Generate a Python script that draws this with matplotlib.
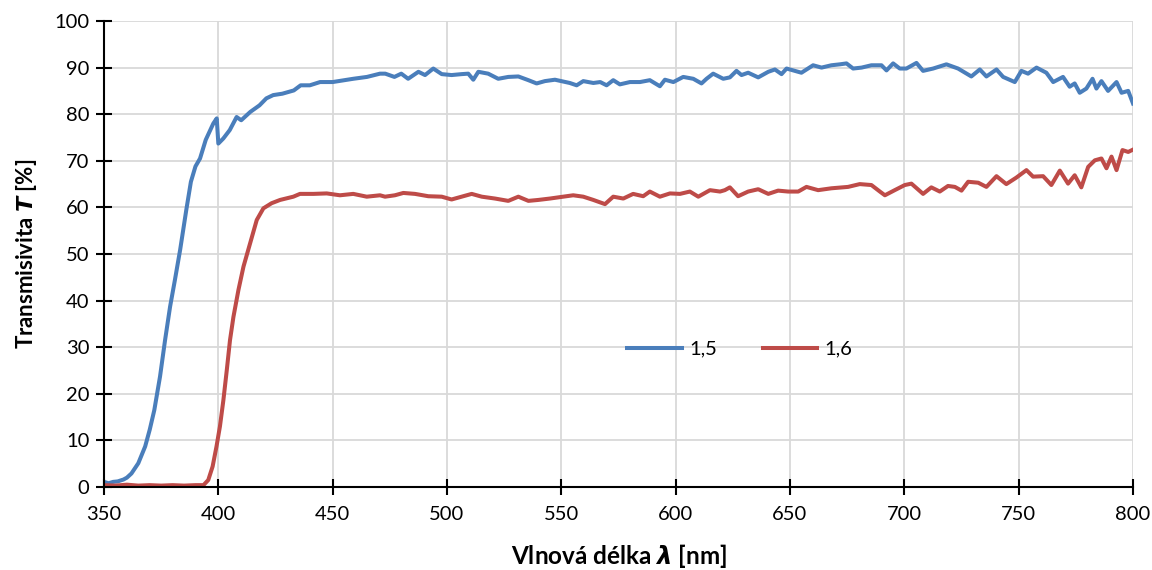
import matplotlib
matplotlib.use("Agg")
import matplotlib.pyplot as plt

# ---- data ----
wl_15 = [350, 352, 354, 356, 358.5, 360, 362, 365, 368, 370, 372, 374.5, 376.7, 378.9, 381,
         383.3, 386, 388, 390, 392, 394.5, 397.8, 399.3, 400, 402.2, 405, 408, 410, 414, 418,
         421, 424, 428, 433, 436, 440, 444.5, 450, 455, 459, 465, 470.7, 473, 477, 480, 483,
         487.5, 490.4, 494, 497.7, 502, 506.4, 509.3, 511.5, 513.7, 518, 522.4, 526.8, 531.2,
         535.6, 539.2, 542.8, 547.2, 550, 553.7, 556.7, 559.6, 564, 567, 569.8, 572.7, 575.6,
         580, 584.4, 588.7, 593.1, 595.3, 599, 603.3, 607.7, 611.3, 613.5, 616.4, 620.8, 623.7,
         626.6, 628.8, 631.7, 636.1, 640.5, 643.4, 646.3, 648.5, 652.1, 655, 660.1, 663.8, 668.1,
         671.8, 674.7, 677.6, 681.3, 685.6, 690, 692.2, 695.1, 698, 700.9, 705.3, 708.2, 712.6,
         718.4, 723.5, 729.3, 733, 735.9, 740.3, 743.2, 748.3, 751.2, 754.1, 757.8, 762.1, 765.1,
         769.4, 772.3, 774.5, 776.7, 779.6, 782.3, 784, 786.2, 789.1, 792.8, 795, 797.9, 800]
t_15 = [1.1, 0.8, 1.1, 1.2, 1.6, 2.0, 2.9, 5.1, 8.7, 12.3, 16.5, 23.7, 31.5, 38.7, 44.4,
        50.9, 59.5, 65.5, 68.8, 70.5, 74.5, 78.0, 79.1, 73.7, 74.8, 76.6, 79.4, 78.7, 80.5, 81.9,
        83.4, 84.1, 84.4, 85.1, 86.2, 86.2, 86.9, 86.9, 87.3, 87.6, 88.0, 88.7, 88.7, 88.0, 88.7, 87.6,
        89.1, 88.4, 89.8, 88.6, 88.4, 88.6, 88.7, 87.4, 89.1, 88.7, 87.6, 88.0, 88.1,
        87.3, 86.6, 87.1, 87.4, 87.1, 86.7, 86.2, 87.1, 86.7, 86.9, 86.2, 87.3, 86.4,
        86.9, 86.9, 87.3, 86.0, 87.4, 86.9, 88.0, 87.6, 86.6, 87.6, 88.7, 87.6, 87.9,
        89.3, 88.4, 88.9, 87.9, 89.1, 89.6, 88.6, 89.8, 89.3, 88.9, 90.5, 90.0, 90.5,
        90.7, 90.9, 89.8, 90.0, 90.5, 90.5, 89.4, 90.9, 89.8, 89.8, 91.0, 89.3, 89.8,
        90.7, 89.8, 88.1, 89.6, 88.1, 89.6, 88.0, 86.9, 89.3, 88.7, 90.0, 88.9, 86.9,
        88.0, 85.9, 86.6, 84.6, 85.5, 87.6, 85.5, 87.1, 85.0, 86.9, 84.6, 85.0, 82.3]

wl_16 = [350, 355, 360, 365, 370, 375, 380, 385, 390, 393.5, 395.6, 397.5, 399.2, 400.7, 402.2,
         403.7, 405.1, 406.6, 408.8, 411, 413.9, 416.8, 419.7, 423.3, 427, 432.8, 435.7, 441.6,
         447.4, 453.2, 459, 464.9, 470.7, 472.9, 477.2, 480.9, 486, 491.8, 497.7, 502, 506.4,
         510.8, 515.2, 521, 526.8, 531.2, 535.6, 539.9, 545, 550.8, 555.2, 559.6, 564, 569.1,
         572.7, 577.1, 581.4, 585.8, 588.7, 593.1, 597.5, 601.9, 606.2, 609.9, 615, 619.4,
         621.5, 623.7, 627.3, 631.7, 636.1, 640.5, 644.8, 649.2, 653.6, 657.2, 662.3, 668.1,
         675.4, 680.5, 685.6, 689.3, 691.5, 695.8, 700.2, 703.1, 708.2, 711.8, 715.5, 719.1,
         722.1, 725, 727.9, 732.3, 735.9, 740.3, 744.6, 749, 753.4, 756.3, 760.7, 764.3, 768,
         771.6, 774.5, 777.4, 780.4, 783.3, 786.2, 788.4, 790.6, 792.8, 795.4, 797.9, 800]
t_16 = [0.4, 0.3, 0.5, 0.3, 0.4, 0.3, 0.4, 0.3, 0.4, 0.4, 1.5, 4.4, 8.7, 13.0, 18.6,
        25.1, 31.5, 36.5, 42.3, 47.3, 52.3, 57.3, 59.8, 60.9, 61.6, 62.3, 62.9, 62.9,
        63.0, 62.6, 62.9, 62.3, 62.6, 62.3, 62.6, 63.1, 62.9, 62.4, 62.3, 61.7, 62.3,
        62.9, 62.3, 61.9, 61.4, 62.3, 61.4, 61.6, 61.9, 62.3, 62.6, 62.3, 61.6, 60.7,
        62.3, 61.9, 62.9, 62.4, 63.4, 62.3, 63.0, 62.9, 63.4, 62.3, 63.7, 63.4,
        63.7, 64.3, 62.4, 63.4, 63.9, 62.9, 63.6, 63.4, 63.4, 64.4, 63.7, 64.1,
        64.4, 65.0, 64.8, 63.4, 62.6, 63.7, 64.8, 65.1, 62.9, 64.3, 63.4, 64.6,
        64.4, 63.6, 65.5, 65.3, 64.4, 66.7, 65.0, 66.4, 68.0, 66.6, 66.7, 64.8, 67.9,
        65.1, 66.9, 64.3, 68.7, 70.1, 70.5, 68.4, 70.9, 68.0, 72.3, 71.9, 72.4]

series_labels = ["1,5", "1,6"]
x_ticks = [350, 400, 450, 500, 550, 600, 650, 700, 750, 800]
y_ticks = [0, 10, 20, 30, 40, 50, 60, 70, 80, 90, 100]

# ---- style ----
plt.rcParams['font.family'] = ['Lato', 'DejaVu Sans']
plt.rcParams['mathtext.fontset'] = 'custom'
plt.rcParams['mathtext.bfit'] = 'DejaVu Sans:italic:bold'

blue = '#4A7EBB'
red = '#BE4B48'

fig = plt.figure(figsize=(11.52, 5.70), dpi=100)
ax = fig.add_axes([104/1152, 83/570, 1029/1152, 466/570])

ax.plot(wl_15, t_15, color=blue, lw=2.9, label=series_labels[0], solid_joinstyle='round')
ax.plot(wl_16, t_16, color=red, lw=2.9, label=series_labels[1], solid_joinstyle='round')

ax.set_xlim(350, 800)
ax.set_ylim(0, 100)
ax.set_xticks(x_ticks)
ax.set_yticks(y_ticks)
ax.grid(True, color='#D9D9D9', lw=1.3)
ax.set_axisbelow(True)

for s in ['top', 'right']:
    ax.spines[s].set_visible(False)
for s in ['left', 'bottom']:
    ax.spines[s].set_linewidth(1.5)
    ax.spines[s].set_color('black')
    ax.spines[s].set_zorder(5)

ax.tick_params(axis='both', direction='inout', length=11, width=1.5, labelsize=14.5,
               colors='black')
ax.tick_params(axis='x', pad=8)
ax.tick_params(axis='y', pad=5)

ax.set_xlabel(r'Vlnová délka $\mathbfit{\lambda}$ [nm]', fontsize=17.5, fontweight='bold',
              labelpad=14)
ax.set_ylabel(r'Transmisivita $\mathbfit{T}$ [%]', fontsize=16, fontweight='bold',
              labelpad=11)

ax.legend(loc='center', bbox_to_anchor=(0.618, 0.296), ncol=2, frameon=False,
          fontsize=14.5, handlelength=2.7, columnspacing=2.3, handletextpad=0.35)

fig.savefig('out.png', dpi=100)
